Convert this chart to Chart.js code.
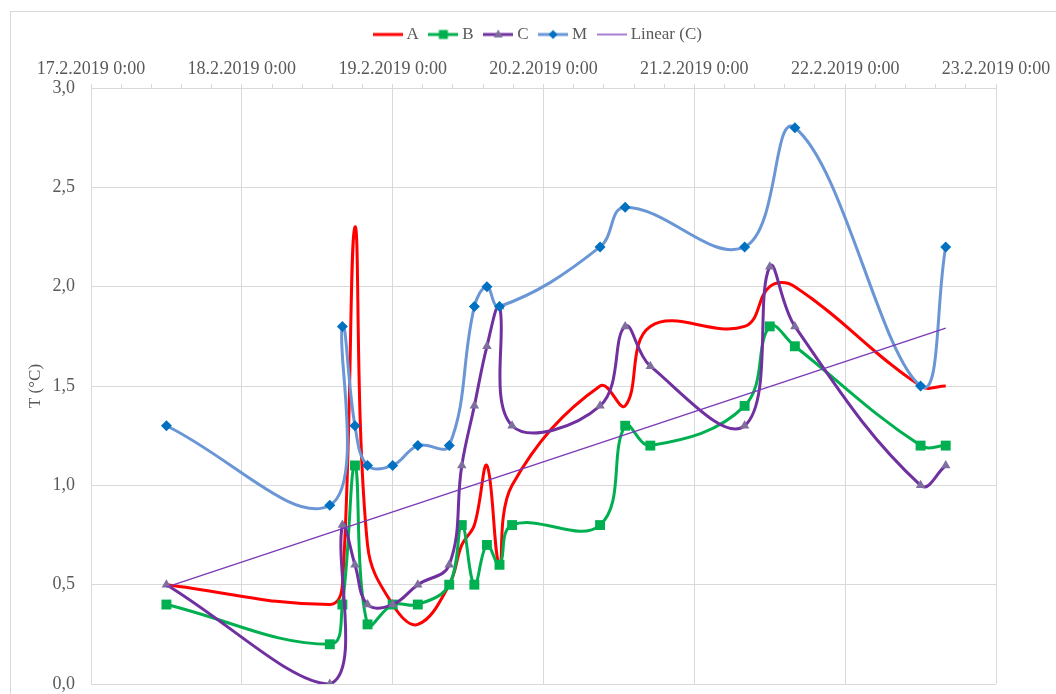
<!DOCTYPE html>
<html>
<head>
<meta charset="utf-8">
<title>T (°C)</title>
<script src="https://cdn.jsdelivr.net/npm/chart.js@4.4.1/dist/chart.umd.min.js"></script>
<style>
  html, body { margin: 0; padding: 0; background: #fff; }
  #wrap { width: 1056px; height: 694px; position: relative; }
</style>
</head>
<body>
<div id="wrap"><canvas id="chart"></canvas></div>
<script>
// Measurement times (shared by all series)
const times = [
  '17.2.2019 12:00', '18.2.2019 14:00', '18.2.2019 16:00', '18.2.2019 18:00', '18.2.2019 20:00',
  '19.2.2019 0:00', '19.2.2019 4:00', '19.2.2019 9:00', '19.2.2019 11:00', '19.2.2019 13:00',
  '19.2.2019 15:00', '19.2.2019 17:00', '19.2.2019 19:00', '20.2.2019 9:00', '20.2.2019 13:00',
  '20.2.2019 17:00', '21.2.2019 8:00', '21.2.2019 12:00', '21.2.2019 16:00', '22.2.2019 12:00',
  '22.2.2019 16:00'
];

// Series values (°C), null = no reading
const seriesA = [0.5, 0.4, 0.5, 2.3, 0.7, 0.4, 0.3, 0.5, 0.7, 0.8, 1.1, 0.6, 1.0, 1.5, 1.4, 1.8, 1.8, 2.0, 2.0, 1.5, 1.5];
const seriesB = [0.4, 0.2, 0.4, 1.1, 0.3, 0.4, 0.4, 0.5, 0.8, 0.5, 0.7, 0.6, 0.8, 0.8, 1.3, 1.2, 1.4, 1.8, 1.7, 1.2, 1.2];
const seriesC = [0.5, 0.0, 0.8, 0.6, 0.4, 0.4, 0.5, 0.6, 1.1, 1.4, 1.7, 1.9, 1.3, 1.4, 1.8, 1.6, 1.3, 2.1, 1.8, 1.0, 1.1];
const seriesM = [1.3, 0.9, 1.8, 1.3, 1.1, 1.1, 1.2, 1.2, null, 1.9, 2.0, 1.9, null, 2.2, 2.4, null, 2.2, null, 2.8, 1.5, 2.2];

// Axis tick labels
const dayLabels = [
  '17.2.2019 0:00', '18.2.2019 0:00', '19.2.2019 0:00', '20.2.2019 0:00',
  '21.2.2019 0:00', '22.2.2019 0:00', '23.2.2019 0:00'
];

const COLORS = {
  A: '#ff0000',
  B: '#00b050',
  C: '#7030a0',
  cMarker: '#7f6f9e',
  M: '#6a96d6',
  mMarker: '#0070c0',
  trend: '#7a38b8',
  grid: '#d9d9d9',
  text: '#595959'
};

const FONT = 'Liberation Serif';
const TOP_PAD = 12;
const PLOT_TOP = 88;

/**
 * Days since 17.2.2019 0:00
 */
function parseDay(str) {
  const [date, time] = str.split(' ');
  const day = parseInt(date.split('.')[0], 10);
  const [h, m] = time.split(':').map(Number);
  return (day - 17) + (h + m / 60) / 24;
}

function toPoints(values) {
  return times
    .map((t, i) => ({ x: parseDay(t), y: values[i] }))
    .filter(p => p.y !== null);
}

/**
 * Least squares trend line (Excel "Linear" trendline)
 */
function linearTrend(points) {
  const n = points.length;
  const mx = points.reduce((s, p) => s + p.x, 0) / n;
  const my = points.reduce((s, p) => s + p.y, 0) / n;
  let num = 0, den = 0;
  points.forEach(p => {
    num += (p.x - mx) * (p.y - my);
    den += (p.x - mx) * (p.x - mx);
  });
  const slope = num / den;
  const first = points[0].x;
  const last = points[n - 1].x;
  return [
    { x: first, y: my + slope * (first - mx) },
    { x: last, y: my + slope * (last - mx) }
  ];
}

/**
 * Legend icon: short line with marker in the middle
 */
function legendIcon(color, width, marker, markerColor) {
  const c = document.createElement('canvas');
  c.width = 30;
  c.height = 14;
  const ctx = c.getContext('2d');
  ctx.strokeStyle = color;
  ctx.lineWidth = width;
  ctx.beginPath();
  ctx.moveTo(0, 7);
  ctx.lineTo(30, 7);
  ctx.stroke();
  ctx.fillStyle = markerColor;
  if (marker === 'rect') {
    ctx.fillRect(10.5, 2.5, 9, 9);
  } else if (marker === 'triangle') {
    ctx.beginPath();
    ctx.moveTo(15, 2);
    ctx.lineTo(19.5, 10);
    ctx.lineTo(10.5, 10);
    ctx.closePath();
    ctx.fill();
  } else if (marker === 'diamond') {
    ctx.beginPath();
    ctx.moveTo(15, 2.5);
    ctx.lineTo(19.5, 7);
    ctx.lineTo(15, 11.5);
    ctx.lineTo(10.5, 7);
    ctx.closePath();
    ctx.fill();
  }
  return c;
}

const pointsC = toPoints(seriesC);

const icons = [
  legendIcon(COLORS.A, 3, null),
  legendIcon(COLORS.B, 3, 'rect', COLORS.B),
  legendIcon(COLORS.C, 3, 'triangle', COLORS.cMarker),
  legendIcon(COLORS.M, 3, 'diamond', COLORS.mMarker),
  legendIcon(COLORS.trend, 1.3, null)
];

// Outer chart frame
const framePlugin = {
  id: 'frame',
  beforeDraw(chart) {
    const ctx = chart.ctx;
    ctx.save();
    ctx.fillStyle = '#fff';
    ctx.fillRect(0, 0, chart.width, chart.height);
    ctx.strokeStyle = COLORS.grid;
    ctx.lineWidth = 1;
    ctx.strokeRect(10.5, 11.5, 1200, 1000);
    ctx.restore();
  }
};

const isWholeDay = v => Math.abs(v - Math.round(v)) < 1e-6;

new Chart(document.getElementById('chart').getContext('2d'), {
  type: 'scatter',
  data: {
    datasets: [
      {
        label: 'A',
        data: toPoints(seriesA),
        showLine: true,
        borderColor: COLORS.A,
        borderWidth: 3,
        pointRadius: 0,
        tension: 0.4,
        order: 5
      },
      {
        label: 'B',
        data: toPoints(seriesB),
        showLine: true,
        borderColor: COLORS.B,
        backgroundColor: COLORS.B,
        borderWidth: 3,
        pointStyle: 'rect',
        pointRadius: 7,
        pointBorderWidth: 0,
        tension: 0.4,
        order: 4
      },
      {
        label: 'C',
        data: pointsC,
        showLine: true,
        borderColor: COLORS.C,
        backgroundColor: COLORS.cMarker,
        borderWidth: 3,
        pointStyle: 'triangle',
        pointRadius: 5.5,
        pointBorderWidth: 0,
        tension: 0.4,
        order: 3
      },
      {
        label: 'M',
        data: toPoints(seriesM),
        showLine: true,
        borderColor: COLORS.M,
        backgroundColor: COLORS.mMarker,
        borderWidth: 3,
        pointStyle: 'rectRot',
        pointRadius: 5.5,
        pointBorderWidth: 0,
        tension: 0.4,
        order: 2
      },
      {
        label: 'Linear (C)',
        data: linearTrend(pointsC),
        showLine: true,
        borderColor: COLORS.trend,
        borderWidth: 1.3,
        pointRadius: 0,
        tension: 0,
        order: 1
      }
    ]
  },
  options: {
    responsive: true,
    maintainAspectRatio: false,
    animation: false,
    devicePixelRatio: 1,
    layout: {
      padding: { top: TOP_PAD, left: 23, right: 0, bottom: 10 }
    },
    plugins: {
      tooltip: { enabled: false },
      legend: {
        position: 'top',
        labels: {
          usePointStyle: true,
          pointStyleWidth: 21,
          padding: 14,
          color: COLORS.text,
          font: { family: FONT, size: 17 },
          generateLabels: chart => chart.data.datasets.map((ds, i) => ({
            text: ds.label,
            pointStyle: icons[i],
            fillStyle: 'transparent',
            strokeStyle: 'transparent',
            lineWidth: 0,
            fontColor: COLORS.text,
            datasetIndex: i
          }))
        }
      }
    },
    scales: {
      x: {
        type: 'linear',
        position: 'top',
        min: 0,
        max: 6,
        ticks: {
          stepSize: 0.2,
          autoSkip: false,
          maxRotation: 0,
          padding: 4,
          color: COLORS.text,
          font: { family: FONT, size: 18 },
          callback: v => isWholeDay(v) ? dayLabels[Math.round(v)] : ''
        },
        grid: {
          color: c => isWholeDay(c.tick.value) ? COLORS.grid : 'rgba(0,0,0,0)',
          tickColor: COLORS.grid,
          tickLength: 4
        },
        border: { color: COLORS.grid },
        afterFit: s => {
          s.height = PLOT_TOP - TOP_PAD - s.chart.legend.height;
        }
      },
      y: {
        min: 0,
        max: 3,
        ticks: {
          stepSize: 0.5,
          padding: 16,
          color: COLORS.text,
          font: { family: FONT, size: 18 },
          callback: v => v.toFixed(1).replace('.', ',')
        },
        grid: { color: COLORS.grid, drawTicks: false },
        border: { color: COLORS.grid },
        title: {
          display: true,
          text: 'T (°C)',
          color: COLORS.text,
          font: { family: FONT, size: 17 },
          padding: { top: 2, bottom: 0 }
        },
        afterFit: s => {
          s.width = 68;
          s.paddingTop = 0;
          s.paddingBottom = 0;
        }
      },
      yRight: {
        position: 'right',
        display: true,
        ticks: { display: false },
        grid: { display: false },
        border: { display: false },
        afterFit: s => { s.width = 60; }
      }
    }
  },
  plugins: [framePlugin]
});
</script>
</body>
</html>
